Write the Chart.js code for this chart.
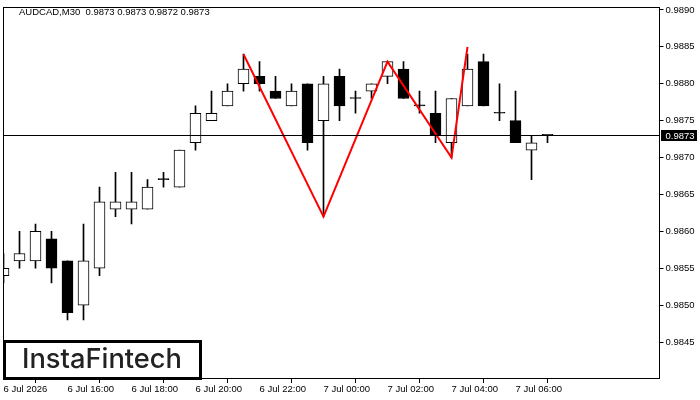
<!DOCTYPE html>
<html><head><meta charset="utf-8">
<script src="https://cdn.jsdelivr.net/npm/chart.js@4.4.1/dist/chart.umd.min.js"></script>
<style>html,body{margin:0;padding:0;background:#fff;}#wrap{position:relative;width:700px;height:400px;}</style>
</head><body><div id="wrap"><canvas id="c" width="700" height="400"></canvas></div>
<script>
const symbol = "AUDCAD,M30";
const brand = "InstaFintech";
const times = ["6 Jul 14:00","6 Jul 14:30","6 Jul 15:00","6 Jul 15:30","6 Jul 16:00","6 Jul 16:30","6 Jul 17:00","6 Jul 17:30",
"6 Jul 18:00","6 Jul 18:30","6 Jul 19:00","6 Jul 19:30","6 Jul 20:00","6 Jul 20:30","6 Jul 21:00","6 Jul 21:30",
"6 Jul 22:00","6 Jul 22:30","6 Jul 23:00","6 Jul 23:30","7 Jul 00:00","7 Jul 00:30","7 Jul 01:00","7 Jul 01:30",
"7 Jul 02:00","7 Jul 02:30","7 Jul 03:00","7 Jul 03:30","7 Jul 04:00","7 Jul 04:30","7 Jul 05:00","7 Jul 05:30",
"7 Jul 06:00","7 Jul 06:30","7 Jul 07:00","7 Jul 07:30","7 Jul 08:00","7 Jul 08:30","7 Jul 09:00","7 Jul 09:30",
"7 Jul 10:00","7 Jul 10:30"];
const opens  = [0.9854,0.9856,0.9856,0.9859,0.9856,0.9850,0.9855,0.9863,0.9863,0.9863,0.9867,0.9866,0.9872,0.9875,0.9877,0.9880,0.9881,0.9879,0.9877,0.9880,0.9875,0.9881,0.9878,0.9879,0.9881,0.9882,0.9877,0.9876,0.9872,0.9877,0.9883,0.9876,0.9875,0.9871,0.9873];
const highs  = [0.9857,0.9860,0.9861,0.9860,0.9856,0.9861,0.9866,0.9868,0.9868,0.9867,0.9868,0.9871,0.9877,0.9879,0.9880,0.9884,0.9883,0.9881,0.9880,0.9880,0.9881,0.9882,0.9879,0.9880,0.9883,0.9883,0.9879,0.9879,0.9878,0.9884,0.9884,0.9880,0.9879,0.9873,0.9873];
const lows   = [0.9853,0.9855,0.9855,0.9853,0.9848,0.9848,0.9854,0.9862,0.9861,0.9863,0.9866,0.9866,0.9871,0.9875,0.9877,0.9879,0.9879,0.9878,0.9877,0.9871,0.9862,0.9875,0.9876,0.9878,0.9880,0.9878,0.9876,0.9872,0.9870,0.9877,0.9877,0.9875,0.9872,0.9867,0.9872];
const closes = [0.9855,0.9857,0.9860,0.9855,0.9849,0.9856,0.9864,0.9864,0.9864,0.9866,0.9867,0.9871,0.9876,0.9876,0.9879,0.9882,0.9880,0.9878,0.9879,0.9872,0.9880,0.9877,0.9878,0.9880,0.9883,0.9878,0.9877,0.9873,0.9878,0.9882,0.9877,0.9876,0.9872,0.9872,0.9873];
const patternIdx = [15,20,24,28,29];
const patternVal = [0.9884,0.9862,0.9883,0.9870,0.9885];
const lastPrice = 0.9873;
const xTickIdx  = [0,4,8,12,16,20,24,28,32];
const xTickText = ["6 Jul 2026","6 Jul 16:00","6 Jul 18:00","6 Jul 20:00","6 Jul 22:00","7 Jul 00:00","7 Jul 02:00","7 Jul 04:00","7 Jul 06:00"];
const yTicks = [0.9845,0.9850,0.9855,0.9860,0.9865,0.9870,0.9875,0.9880,0.9885,0.9890];
const yMin = 0.9840, yMax = 0.98903;

const bodyData = opens.map((o,i)=>[o, closes[i]]);
const wickData = lows.map((l,i)=>[l, highs[i]]);
const bodyFill = opens.map((o,i)=> closes[i] > o ? '#ffffff' : '#000000');
const patternData = opens.map(()=>null);
patternIdx.forEach((k,j)=>{ patternData[k] = patternVal[j]; });

const FONT = 'Liberation Sans';
const n = opens.length - 1;
const titleText = symbol + '  ' + [opens[n],highs[n],lows[n],closes[n]].map(v=>v.toFixed(4)).join(' ');

const overlay = {
  id:'overlay',
  afterDatasetsDraw(chart){
    const ctx = chart.ctx, a = chart.chartArea, y = chart.scales.y;
    const py = Math.floor(y.getPixelForValue(lastPrice)) + 0.5;
    ctx.save();
    ctx.strokeStyle = '#000'; ctx.lineWidth = 1;
    ctx.beginPath(); ctx.moveTo(a.left, py); ctx.lineTo(a.right, py); ctx.stroke();
    ctx.restore();
  },
  afterDraw(chart){
    const ctx = chart.ctx, a = chart.chartArea, y = chart.scales.y;
    ctx.save();
    ctx.strokeStyle = '#000'; ctx.lineWidth = 1;
    ctx.strokeRect(Math.floor(a.left)+0.5, Math.floor(a.top)+0.5, Math.floor(a.right)-Math.floor(a.left), Math.floor(a.bottom)-1-Math.floor(a.top));
    const py = Math.floor(y.getPixelForValue(lastPrice)) + 0.5;
    ctx.fillStyle = '#000';
    ctx.fillRect(661, py-5.5, 36, 11);
    ctx.fillStyle = '#fff'; ctx.font = '9.5px "'+FONT+'"';
    ctx.textBaseline = 'middle'; ctx.textAlign = 'left';
    ctx.fillText(lastPrice.toFixed(4), 665.5, py+0.5);
    ctx.fillStyle = '#000';
    ctx.textBaseline = 'alphabetic';
    ctx.fillText(titleText, 19, 15);
    ctx.fillStyle = '#fff';
    ctx.fillRect(3, 340, 199, 39);
    ctx.strokeStyle = '#000'; ctx.lineWidth = 3;
    ctx.strokeRect(4.5, 341.5, 196, 37);
    ctx.font = '500 25px Inter';
    const w = ctx.measureText(brand).width;
    const fs = 25 * 160 / w;
    ctx.font = '500 ' + fs.toFixed(2) + 'px Inter';
    ctx.fillStyle = '#222';
    ctx.textAlign = 'center';
    ctx.fillText(brand, 102, 367.5);
    ctx.restore();
  }
};

new Chart(document.getElementById('c'), {
  data: {
    labels: times,
    datasets: [
      { type:'bar', data: wickData, barThickness:1, backgroundColor:'#000', borderWidth:0, grouped:false, order:3 },
      { type:'bar', data: bodyData, barThickness:11, backgroundColor: bodyFill, borderColor:'#000', borderWidth:1, borderSkipped:false, minBarLength:1, grouped:false, order:2 },
      { type:'line', data: patternData, borderColor:'#ff0000', borderWidth:2, pointRadius:0, spanGaps:true, tension:0, order:1 }
    ]
  },
  options: {
    responsive:false, animation:false, devicePixelRatio:1,
    layout:{ padding:{ left:3.5, top:2, right:0, bottom:0 } },
    plugins:{ legend:{display:false}, tooltip:{enabled:false} },
    scales:{
      x:{ type:'category', offset:false,
        afterBuildTicks: s => { s.ticks = xTickIdx.map(v=>({value:v})); },
        afterFit: s => { s.height = 21; },
        grid:{ display:true, drawOnChartArea:false, tickLength:4, color:'#000' },
        border:{ display:false },
        ticks:{ autoSkip:false, maxRotation:0, align:'start', padding:1, color:'#000',
          font:{ family:FONT, size:9.5 },
          callback: (v, i) => xTickText[i] }
      },
      y:{ type:'linear', position:'right', min:yMin, max:yMax,
        afterBuildTicks: s => { s.ticks = yTicks.map(v=>({value:v})); },
        afterFit: s => { s.width = 40.5; },
        grid:{ display:true, drawOnChartArea:false, tickLength:4, color:'#000' },
        border:{ display:false },
        ticks:{ padding:2, color:'#000', font:{ family:FONT, size:9.5 },
          callback: v => Number(v).toFixed(4) }
      }
    }
  },
  plugins:[overlay]
});
</script></body></html>
